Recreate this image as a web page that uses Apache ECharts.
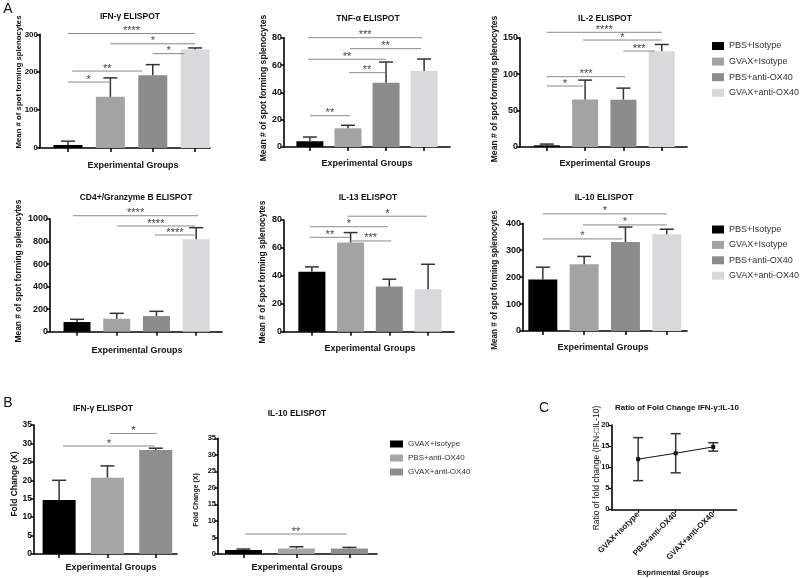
<!DOCTYPE html>
<html>
<head>
<meta charset="utf-8">
<script src="https://cdn.jsdelivr.net/npm/echarts@6/dist/echarts.min.js"></script>
<style>
  html, body { margin: 0; padding: 0; background: #fff; }
  #main { width: 800px; height: 578px; }
</style>
</head>
<body>
<div id="main"></div>
<script>
const FONT = '"Liberation Sans", Arial, sans-serif';

// groups + colours
const groupsA = ["PBS+Isotype", "GVAX+Isotype", "PBS+anti-OX40", "GVAX+anti-OX40"];
const colorsA = ["#000000", "#a3a3a3", "#8c8c8c", "#d9d9db"];
const groupsB = ["GVAX+Isotype", "PBS+anti-OX40", "GVAX+anti-OX40"];
const colorsB = ["#000000", "#a6a6a6", "#8e8e8e"];
const groupsC = ["GVAX+Isotype", "PBS+anti-OX40", "GVAX+anti-OX40"];

// panel A: mean, sem (upper only), significance bars [from, to, y, stars]
const ifngMean = [8, 135, 192, 260];
const ifngSem = [10, 50, 28, 4];
const ifngSig = [[0, 3, 302, "****"], [1, 3, 275, "*"], [2, 2.75, 249, "*"], [0.1, 1.75, 203, "**"], [0, 0.97, 174, "*"]];

const tnfMean = [4.2, 13.7, 47, 55.6];
const tnfSem = [3.1, 2.2, 15.2, 8.8];
const tnfSig = [[-0.05, 2.95, 80, "***"], [1.05, 2.92, 72, "**"], [-0.05, 2, 64.2, "**"], [1.03, 1.97, 54.4, "**"], [0, 1.05, 22.9, "**"]];

const il2Mean = [2.3, 65.3, 65, 131.5];
const il2Sem = [1.7, 26.5, 15.8, 9.2];
const il2Sig = [[0, 3, 157.4, "****"], [0.94, 3, 146.8, "*"], [2, 2.82, 131.7, "***"], [0, 2.05, 96.5, "***"], [0, 0.94, 83.7, "*"]];

const gzmbMean = [86, 115, 139, 820];
const gzmbSem = [24, 48, 42, 103];
const gzmbSig = [[-0.1, 3.05, 1029, "****"], [1, 2.97, 938, "****"], [1.96, 2.97, 858, "****"]];

const il13Mean = [43, 63.8, 32.3, 30.4];
const il13Sem = [3.4, 7.2, 5.3, 17.9];
const il13Sig = [[0.93, 2.97, 82.7, "*"], [-0.05, 1.96, 75.2, "*"], [-0.05, 0.98, 67.6, "**"], [0.98, 2.05, 65, "***"]];

const il10Mean = [191, 248, 331, 359];
const il10Sem = [46, 29, 55, 19];
const il10Sig = [[0, 3, 435, "*"], [0.97, 3, 394, "*"], [0, 1.92, 342, "*"]];

// panel B: fold change
const foldIfngMean = [14.65, 20.7, 28.2];
const foldIfngSem = [5.35, 3.2, 0.5];
const foldIfngSig = [[1.05, 2.02, 32.7, "*"], [0.08, 1.98, 29.3, "*"]];

const foldIl10Mean = [1.2, 1.7, 1.7];
const foldIl10Sem = [0.3, 0.5, 0.3];
const foldIl10Sig = [[0.03, 1.95, 6.05, "**"]];

// panel C: ratio, symmetric error
const ratioMean = [11.9, 13.3, 14.8];
const ratioErr = [5.1, 4.65, 1.0];

const yTitleA = "Mean # of spot forming splenocytes";

const panels = [
  { title: "IFN-\u03b3 ELISPOT", mean: ifngMean, sem: ifngSem, sig: ifngSig, groups: groupsA, colors: colorsA,
    grid: [40, 34.3, 170, 113.7], x: [-0.66, 3.35], y: [300, 100], barWidth: 29, font: 8,
    titleAt: [130, 17], xTitleAt: [133, 166], yTitle: yTitleA, yTitleAt: [19, 82], yFont: 7.8 },
  { title: "TNF-\u03b1 ELISPOT", mean: tnfMean, sem: tnfSem, sig: tnfSig, groups: groupsA, colors: colorsA,
    grid: [284, 37.7, 166, 109.3], x: [-0.68, 3.68], y: [80, 20], barWidth: 27, font: 9,
    titleAt: [368, 19], xTitleAt: [367, 164], yTitle: yTitleA, yTitleAt: [263.5, 88], yFont: 8.6 },
  { title: "IL-2 ELISPOT", mean: il2Mean, sem: il2Sem, sig: il2Sig, groups: groupsA, colors: colorsA,
    grid: [520, 37.7, 167, 109.3], x: [-0.7, 3.66], y: [150, 50], barWidth: 26, font: 9,
    titleAt: [605, 19], xTitleAt: [605, 164], yTitle: yTitleA, yTitleAt: [495, 89], yFont: 8.6 },
  { title: "CD4+/Granzyme B ELISPOT", mean: gzmbMean, sem: gzmbSem, sig: gzmbSig, groups: groupsA, colors: colorsA,
    grid: [50, 219, 172, 112.7], x: [-0.68, 3.65], y: [1000, 200], barWidth: 27, font: 9,
    titleAt: [136, 198], xTitleAt: [137, 351], yTitle: yTitleA, yTitleAt: [19, 271], yFont: 8.4 },
  { title: "IL-13 ELISPOT", mean: il13Mean, sem: il13Sem, sig: il13Sig, groups: groupsA, colors: colorsA,
    grid: [284, 220, 170, 111.7], x: [-0.72, 3.67], y: [80, 20], barWidth: 27, font: 9,
    titleAt: [368, 198], xTitleAt: [370, 349], yTitle: yTitleA, yTitleAt: [263, 272], yFont: 8.4 },
  { title: "IL-10 ELISPOT", mean: il10Mean, sem: il10Sem, sig: il10Sig, groups: groupsA, colors: colorsA,
    grid: [523, 223.3, 164, 107.7], x: [-0.48, 3.49], y: [400, 100], barWidth: 29, font: 9,
    titleAt: [604, 198], xTitleAt: [603, 348], yTitle: yTitleA, yTitleAt: [495, 280], yFont: 8.2 },
  { title: "IFN-\u03b3 ELISPOT", mean: foldIfngMean, sem: foldIfngSem, sig: foldIfngSig, groups: groupsB, colors: colorsB,
    grid: [34, 425, 143, 129], x: [-0.52, 2.44], y: [35, 5], barWidth: 33, font: 8.5,
    titleAt: [103, 409], xTitleAt: [111, 568], yTitle: "Fold Change (X)", yTitleAt: [15, 484], yFont: 8.5 },
  { title: "IL-10 ELISPOT", mean: foldIl10Mean, sem: foldIl10Sem, sig: foldIl10Sig, groups: groupsB, colors: colorsB,
    grid: [218, 438.3, 159, 115.7], x: [-0.48, 2.52], y: [35, 5], barWidth: 37, font: 7.5,
    titleAt: [297, 414], xTitleAt: [297, 568], yTitle: "Fold Change (X)", yTitleAt: [196, 500], yFont: 7 }
];

function plain(v) { return String(v); }

function errRender(halfCap, both) {
  return function (params, api) {
    const x = api.value(0), m = api.value(1), e = api.value(2);
    const top = api.coord([x, m + e]);
    const bot = api.coord([x, both ? m - e : m]);
    const st = { stroke: "#333", lineWidth: 1.5 };
    const kids = [
      { type: "line", shape: { x1: top[0], y1: top[1], x2: bot[0], y2: bot[1] }, style: st },
      { type: "line", shape: { x1: top[0] - halfCap, y1: top[1], x2: top[0] + halfCap, y2: top[1] }, style: st }
    ];
    if (both) {
      kids.push({ type: "line", shape: { x1: bot[0] - halfCap, y1: bot[1], x2: bot[0] + halfCap, y2: bot[1] }, style: st });
    }
    return { type: "group", children: kids };
  };
}

function sigRender(list) {
  return function (params, api) {
    const s = list[params.dataIndex];
    const a = api.coord([s[0], s[2]]);
    const b = api.coord([s[1], s[2]]);
    return {
      type: "group",
      children: [
        { type: "line", shape: { x1: a[0], y1: a[1], x2: b[0], y2: b[1] }, style: { stroke: "#8a8a8a", lineWidth: 1 } },
        { type: "text", style: { text: s[3], x: (a[0] + b[0]) / 2, y: a[1] - 2.5, align: "center", verticalAlign: "middle",
          font: "11px " + FONT, fill: "#444" } }
      ]
    };
  };
}

function axisCommon(k) {
  return {
    gridIndex: k,
    type: "value",
    splitLine: { show: false },
    axisLine: { show: true, onZero: false, lineStyle: { color: "#000", width: 1.6 } }
  };
}

const option = {
  animation: false,
  backgroundColor: "#fff",
  grid: [], xAxis: [], yAxis: [], series: [],
  legend: [],
  graphic: { elements: [] }
};

function label(text, x, y, size, bold, rot) {
  option.graphic.elements.push({
    type: "text", x: x, y: y, rotation: rot || 0,
    style: { text: text, x: 0, y: 0, align: "center", verticalAlign: "middle",
      textAlign: "center", textVerticalAlign: "middle",
      font: (bold ? "bold " : "") + size + "px " + FONT, fill: "#111" }
  });
}

panels.forEach(function (p, k) {
  option.grid.push({ left: p.grid[0], top: p.grid[1], width: p.grid[2], height: p.grid[3] });
  const idx = p.mean.map(function (v, i) { return i; });
  option.xAxis.push(Object.assign(axisCommon(k), {
    min: p.x[0], max: p.x[1],
    axisTick: { show: true, customValues: idx, length: 4, lineStyle: { color: "#000", width: 1.5 } },
    axisLabel: { show: false }
  }));
  option.yAxis.push(Object.assign(axisCommon(k), {
    min: 0, max: p.y[0], interval: p.y[1],
    axisTick: { show: true, length: 3.5, lineStyle: { color: "#000", width: 1.5 } },
    axisLabel: { fontSize: p.font, fontWeight: "bold", color: "#111", fontFamily: FONT, margin: 2, formatter: plain }
  }));
  p.groups.forEach(function (g, i) {
    option.series.push({
      type: "bar", name: g, xAxisIndex: k, yAxisIndex: k,
      data: [[i, p.mean[i]]], barWidth: p.barWidth, barGap: "-100%",
      itemStyle: { color: p.colors[i] }, z: 2
    });
  });
  option.series.push({
    type: "custom", name: "sem" + k, xAxisIndex: k, yAxisIndex: k, z: 3, clip: false,
    renderItem: errRender(7, false),
    data: p.mean.map(function (v, i) { return [i, v, p.sem[i]]; })
  });
  option.series.push({
    type: "custom", name: "sig" + k, xAxisIndex: k, yAxisIndex: k, z: 4, clip: false,
    renderItem: sigRender(p.sig),
    data: p.sig.map(function (s) { return [s[0], s[2], s[1]]; })
  });
  label(p.title, p.titleAt[0], p.titleAt[1], 8.5, true);
  label("Experimental Groups", p.xTitleAt[0], p.xTitleAt[1], 9, true);
  label(p.yTitle, p.yTitleAt[0], p.yTitleAt[1], p.yFont, true, Math.PI / 2);
});

// panel C: ratio line
const kc = panels.length;
option.grid.push({ left: 611.5, top: 425, width: 125, height: 84.3 });
option.xAxis.push(Object.assign(axisCommon(kc), {
  min: -0.71, max: 2.62,
  axisTick: { show: true, customValues: [0, 1, 2], length: 3.5, lineStyle: { color: "#000", width: 1.3 } },
  axisLabel: { customValues: [0, 1, 2], rotate: 45, fontSize: 8, fontWeight: "bold", color: "#111", fontFamily: FONT, margin: 4,
    formatter: function (v) { return groupsC[Math.round(v)]; } }
}));
option.yAxis.push(Object.assign(axisCommon(kc), {
  min: 0, max: 20, interval: 5,
  axisTick: { show: true, length: 3, lineStyle: { color: "#000", width: 1.3 } },
  axisLabel: { fontSize: 7.5, fontWeight: "bold", color: "#111", fontFamily: FONT, margin: 2, formatter: plain }
}));
option.series.push({
  type: "line", name: "ratio", xAxisIndex: kc, yAxisIndex: kc, z: 3,
  data: ratioMean.map(function (v, i) { return [i, v]; }),
  symbol: "rect", symbolSize: 4, lineStyle: { color: "#111", width: 1 }, itemStyle: { color: "#111" }
});
option.series.push({
  type: "custom", name: "ratioErr", xAxisIndex: kc, yAxisIndex: kc, z: 2, clip: false,
  renderItem: errRender(5, true),
  data: ratioMean.map(function (v, i) { return [i, v, ratioErr[i]]; })
});
label("Ratio of Fold Change IFN-\u03b3:IL-10", 677, 408, 8, true);
label("Exprimental Groups", 673, 573, 7.5, true);
label("Ratio of fold change (IFN-\u25a1IL-10)", 597, 468, 8.5, false, Math.PI / 2);

// panel letters
label("A", 8, 9, 14, false);
label("B", 8, 403, 14, false);
label("C", 544, 408, 14, false);

// legends
const legendBase = { orient: "vertical", icon: "rect", selectedMode: false, padding: 0 };
option.legend.push(Object.assign({}, legendBase, {
  left: 712, top: 41, itemWidth: 12, itemHeight: 8, itemGap: 5.6,
  textStyle: { fontSize: 9, lineHeight: 10, color: "#333", fontFamily: FONT },
  data: groupsA
}));
option.legend.push(Object.assign({}, legendBase, {
  left: 712, top: 224.5, itemWidth: 12, itemHeight: 8, itemGap: 5.4,
  textStyle: { fontSize: 9, lineHeight: 10, color: "#333", fontFamily: FONT },
  data: groupsA
}));
option.legend.push(Object.assign({}, legendBase, {
  left: 390, top: 439.5, itemWidth: 13, itemHeight: 7, itemGap: 5,
  textStyle: { fontSize: 8, lineHeight: 9, color: "#333", fontFamily: FONT },
  data: groupsB.map(function (g, i) { return { name: g, itemStyle: { color: colorsB[i] } }; })
}));

const chart = echarts.init(document.getElementById("main"));
chart.setOption(option);
</script>
</body>
</html>
